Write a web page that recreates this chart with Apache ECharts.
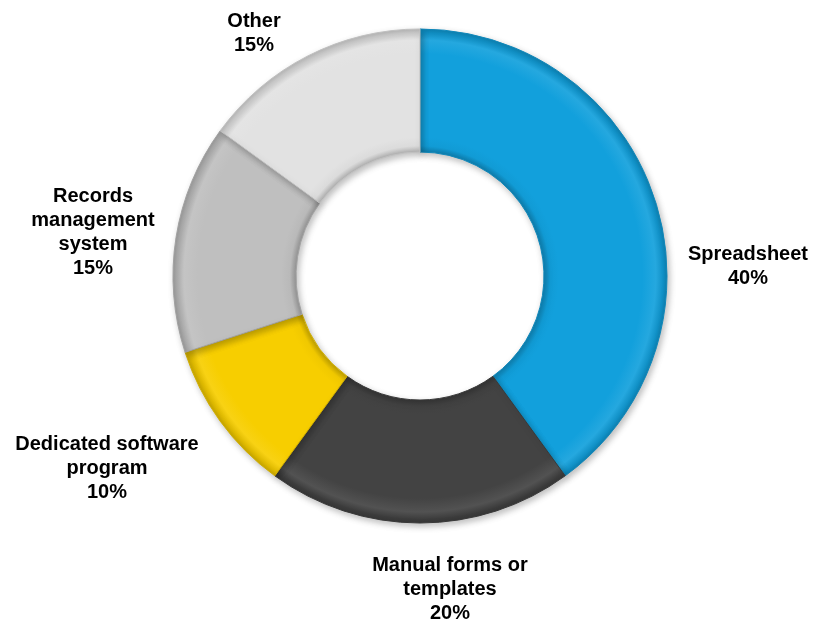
<!DOCTYPE html>
<html>
<head>
<meta charset="utf-8">
<title>Tracking method</title>
<script src="https://cdn.jsdelivr.net/npm/echarts@6/dist/echarts.min.js"></script>
<style>
  html, body { margin: 0; padding: 0; background: #ffffff; }
  #chart { width: 814px; height: 623px; }
</style>
</head>
<body>
<div id="chart"></div>
<script>
// Share of respondents by tracking method (percent)
const categories = [
  'Spreadsheet',
  'Manual forms or\ntemplates',
  'Dedicated software\nprogram',
  'Records\nmanagement\nsystem',
  'Other'
];
const shares = [40, 20, 10, 15, 15];
const sliceColors = ['#12A0DC', '#434343', '#F7CE00', '#BFBFBF', '#E2E2E2'];

// Ring geometry and label anchors (pixels)
const CX = 420, CY = 276, R_IN = 124, R_OUT = 247;
const labelAnchors = [[748, 266], [450, 589], [107, 468], [93, 232], [254, 33]];

function shade(hex, f) {
  const n = parseInt(hex.slice(1), 16);
  const ch = [(n >> 16) & 255, (n >> 8) & 255, n & 255].map(function (c) {
    const v = f < 1 ? c * f : c + (255 - c) * (f - 1);
    return Math.max(0, Math.min(255, Math.round(v)));
  });
  return 'rgb(' + ch.join(',') + ')';
}

// Radial gradient centred on the ring gives each slice a bevelled rim
function bevel(hex) {
  const k = R_IN / R_OUT;
  return {
    type: 'radial', x: CX, y: CY, r: R_OUT, global: true,
    colorStops: [
      { offset: 0, color: shade(hex, 0.78) },
      { offset: k, color: shade(hex, 0.78) },
      { offset: k + 0.025, color: shade(hex, 0.97) },
      { offset: k + 0.06, color: hex },
      { offset: 0.90, color: hex },
      { offset: 0.955, color: shade(hex, 1.08) },
      { offset: 0.985, color: shade(hex, 0.9) },
      { offset: 1, color: shade(hex, 0.8) }
    ]
  };
}

const chart = echarts.init(document.getElementById('chart'), null, { renderer: 'canvas' });

chart.setOption({
  backgroundColor: '#ffffff',
  animation: false,
  series: [{
    type: 'pie',
    center: [CX, CY],
    radius: [R_IN, R_OUT],
    startAngle: 90,
    clockwise: true,
    avoidLabelOverlap: false,
    emphasis: { disabled: true },
    itemStyle: {
      borderWidth: 1,
      shadowBlur: 6,
      shadowOffsetX: 2,
      shadowOffsetY: 3,
      shadowColor: 'rgba(0,0,0,0.25)'
    },
    label: {
      show: true,
      position: 'outside',
      color: '#000000',
      fontFamily: 'Liberation Sans, Arial, sans-serif',
      fontWeight: 'bold',
      fontSize: 20,
      lineHeight: 24,
      align: 'center',
      formatter: function (p) { return p.name + '\n' + p.value + '%'; }
    },
    labelLine: { show: false },
    labelLayout: function (p) {
      const a = labelAnchors[p.dataIndex];
      return { x: a[0], y: a[1], align: 'center', verticalAlign: 'middle' };
    },
    data: categories.map(function (name, i) {
      return {
        name: name,
        value: shares[i],
        itemStyle: {
          color: bevel(sliceColors[i]),
          borderColor: shade(sliceColors[i], 0.85)
        }
      };
    })
  }]
});
</script>
</body>
</html>
